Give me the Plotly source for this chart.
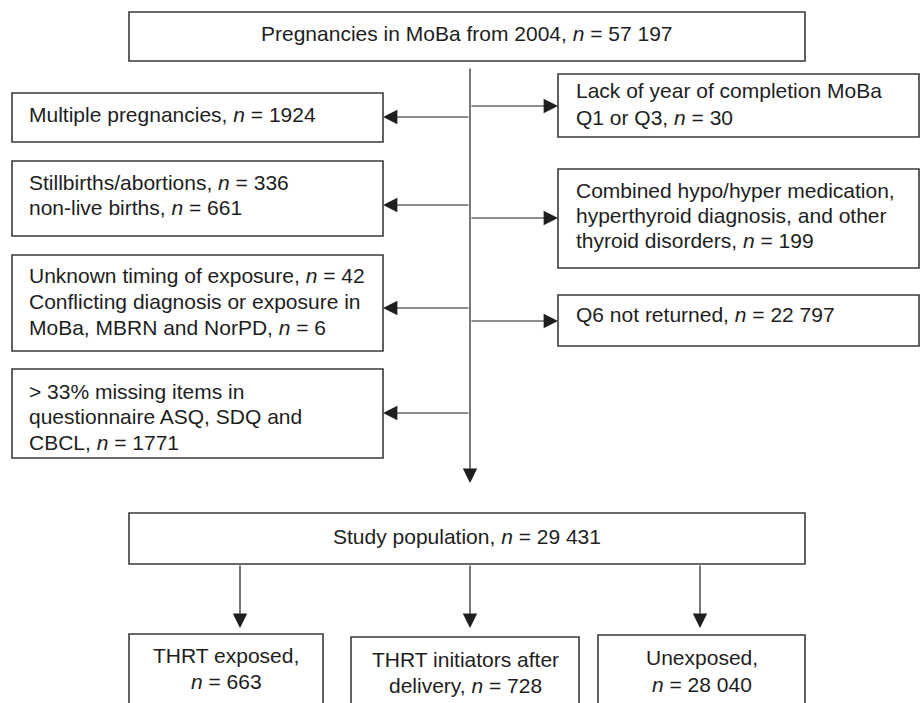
import plotly.graph_objects as go

# ---- data ----
top_lines = ["Pregnancies in MoBa from 2004, {n} = 57 197"]
left_labels = [
    ["Multiple pregnancies, {n} = 1924"],
    ["Stillbirths/abortions, {n} = 336", "non-live births, {n} = 661"],
    ["Unknown timing of exposure, {n} = 42", "Conflicting diagnosis or exposure in", "MoBa, MBRN and NorPD, {n} = 6"],
    ["> 33% missing items in", "questionnaire ASQ, SDQ and", "CBCL, {n} = 1771"],
]
right_labels = [
    ["Lack of year of completion MoBa", "Q1 or Q3, {n} = 30"],
    ["Combined hypo/hyper medication,", "hyperthyroid diagnosis, and other", "thyroid disorders, {n} = 199"],
    ["Q6 not returned, {n} = 22 797"],
]
study_lines = ["Study population, {n} = 29 431"]
group_labels = [
    ["THRT exposed,", "{n} = 663"],
    ["THRT initiators after", "delivery, {n} = 728"],
    ["Unexposed,", "{n} = 28 040"],
]

# ---- layout geometry (pixel coordinates of the page) ----
W, H = 922, 703
FONT = dict(family="Liberation Sans, Arial, sans-serif", size=21, color="#1e1e1e")
LINE = "#1e1e1e"
BOX = "#3a3a3a"

top_box = (129, 805, 12, 61)
top_base = [40]
main_x = 470
main_start = 67
main_tip = 483
left_boxes = [(12, 383, 93, 142), (12, 383, 161, 236), (12, 383, 255, 351), (12, 383, 369, 458)]
left_bases = [[121], [189, 214], [282, 308, 334], [398, 423, 449]]
left_arrow_y = [117, 205, 308, 413]
right_boxes = [(558, 919, 74, 137), (558, 919, 169, 268), (558, 919, 295, 346)]
right_bases = [[97, 124], [197, 222, 247], [321]]
right_arrow_y = [106, 218, 321]
study_box = (129, 805, 513, 564)
study_base = [543]
group_boxes = [(129, 323, 634, 730), (351, 579, 637, 730), (598, 805, 635, 730)]
group_bases = [[662, 688], [666, 692], [664, 691]]
group_arrow_x = [240, 470, 700]
group_arrow_tip = [628, 628, 628]
TXT_DY = 7.0


def fmt(line):
    return line.format(n="<i>n</i>")


shapes = []
annotations = []


def box(b):
    x0, x1, y0, y1 = b
    shapes.append(dict(type="rect", xref="x", yref="y", x0=x0, x1=x1, y0=y0, y1=y1,
                       line=dict(color=BOX, width=1.6), fillcolor="white", layer="below"))


def arrow(x0, y0, x1, y1):
    annotations.append(dict(x=x1, y=y1, ax=x0, ay=y0, xref="x", yref="y", axref="x", ayref="y",
                            showarrow=True, arrowhead=2, arrowsize=2.4, arrowwidth=1.2,
                            arrowcolor=LINE, text=""))


def text_lines(x, bases, lines, xanchor="left"):
    for yb, l in zip(bases, lines):
        annotations.append(dict(x=x, y=yb - TXT_DY, xref="x", yref="y", text=fmt(l), showarrow=False,
                                xanchor=xanchor, yanchor="middle",
                                align="center" if xanchor == "center" else "left", font=FONT))


# top box
box(top_box)
text_lines((top_box[0] + top_box[1]) / 2, top_base, top_lines, "center")

# main line
arrow(main_x, main_start, main_x, main_tip)

for b, ay, bases, lines in zip(left_boxes, left_arrow_y, left_bases, left_labels):
    box(b)
    text_lines(b[0] + 15, bases, lines)
    arrow(main_x, ay, b[1], ay)

for b, ay, bases, lines in zip(right_boxes, right_arrow_y, right_bases, right_labels):
    box(b)
    text_lines(b[0] + 16, bases, lines)
    arrow(main_x, ay, b[0], ay)

box(study_box)
text_lines((study_box[0] + study_box[1]) / 2, study_base, study_lines, "center")

for b, x, tip, bases, lines in zip(group_boxes, group_arrow_x, group_arrow_tip, group_bases, group_labels):
    arrow(x, study_box[3], x, tip)
    box(b)
    text_lines((b[0] + b[1]) / 2, bases, lines, "center")

fig = go.Figure()
fig.update_layout(
    width=W, height=H,
    margin=dict(l=0, r=0, t=0, b=0),
    paper_bgcolor="white", plot_bgcolor="white",
    xaxis=dict(range=[0, W], visible=False, fixedrange=True),
    yaxis=dict(range=[H, 0], visible=False, fixedrange=True),
    shapes=shapes, annotations=annotations, showlegend=False,
)
fig.write_html(
    "out.html",
    config={"displayModeBar": False},
    post_script=("document.body.style.margin='0';"
                 "document.documentElement.style.overflow='hidden';"
                 "document.body.style.overflow='hidden';"),
)
